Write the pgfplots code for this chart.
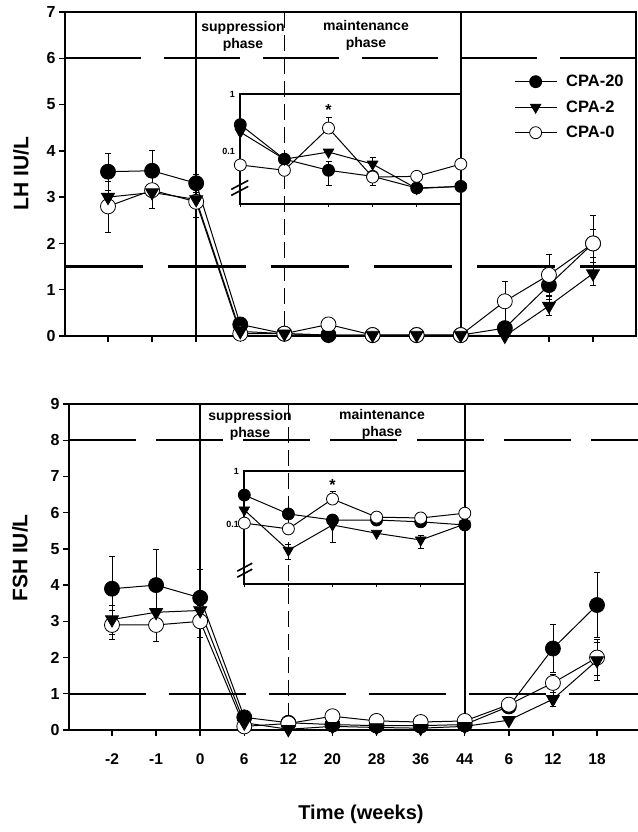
\documentclass[border=0pt]{standalone}
\usepackage{fontspec}
\setmainfont{Liberation Sans}
\usepackage{pgfplots}
\pgfplotsset{compat=1.18}

\pgfplotsset{
  panel/.style={
    scale only axis, width=571pt, xmin=-0.975, xmax=11.975,
    axis line style={line width=2.2pt},
    tick align=outside, tick pos=left, major tick length=6pt,
    tick style={line width=1.4pt, black},
    xtick={0,...,11},
    /pgf/number format/assume math mode=true,
    yticklabel style={font=\fontsize{16}{16}\selectfont\bfseries},
    xticklabel style={font=\fontsize{15.5}{15.5}\selectfont\bfseries, yshift=-14pt},
    clip=false,
  },
  insetax/.style={
    scale only axis, width=220.5pt, xmin=3, xmax=8, ymax=1,
    axis line style={line width=1.8pt},
    tick align=outside, tick pos=left, major tick length=3pt,
    xtick={3,...,8}, xticklabels={},
    ytick={0.1,1}, yticklabels={0.1,1}, ytick style={draw=none},
    xtick style={line width=1pt, black},
    yticklabel style={font=\fontsize{9}{9}\selectfont\bfseries, xshift=1pt},
    clip=false,
  },
  cpa20/.style={black, line width=1pt, mark=*, mark size=7.5pt,
    mark options={solid, fill=black, line width=0.8pt}},
  cpa2/.style={black, line width=1pt, mark=triangle*, mark size=7.5pt,
    mark options={solid, rotate=180, fill=black, line width=0.8pt}},
  cpa0/.style={black, line width=1pt, mark=*, mark size=7.5pt,
    mark options={solid, fill=white, line width=0.8pt}},
  errs/.style={forget plot, only marks, mark=none,
    error bars/.cd, y dir=both, y explicit,
    error bar style={line width=0.6pt, black},
    error mark options={rotate=90, mark size=3pt, line width=0.6pt, black}},
  refline/.style={forget plot, black, line width=2.2pt},
}

\begin{document}
\begin{tikzpicture}
\useasboundingbox (0pt,0pt) rectangle (637pt,832pt);

% ---------------- LH panel ----------------
\begin{axis}[panel, at={(65pt,496pt)}, anchor=south west, height=324pt,
  ymin=0, ymax=7, ytick={0,...,7}, xticklabels={},
  legend style={at={(0.781,0.818)}, anchor=north west, draw=none, fill=none,
    font=\fontsize{16.5}{16.5}\selectfont\bfseries, row sep=8.5pt,
    nodes={inner sep=2pt},
    /tikz/every odd column/.append style={column sep=7pt}},
  legend cell align=left,
  legend image code/.code={\draw[mark repeat=2,mark phase=2,#1]
    plot coordinates {(0pt,0pt) (21pt,0pt) (42pt,0pt)};}]
\addlegendimage{cpa20, mark size=6pt}\addlegendentry{CPA-20}
\addlegendimage{cpa2, mark size=6pt}\addlegendentry{CPA-2}
\addlegendimage{cpa0, mark size=6pt}\addlegendentry{CPA-0}

\addplot[refline, dash pattern=on 76pt off 23pt] coordinates {(-0.975,6) (11.975,6)};
\addplot[refline, dash pattern=on 78pt off 25pt] coordinates {(-0.975,1.5) (11.975,1.5)};
\draw[line width=2pt] (axis cs:2,0) -- (axis cs:2,7);
\draw[line width=1.3pt, dash pattern=on 16pt off 7pt] (axis cs:4,7) -- (axis cs:4,0);
\draw[line width=2pt] (axis cs:8,0) -- (axis cs:8,7);

\addplot[errs] coordinates {(0,3.55) +- (0,0.4) (1,3.57) +- (0,0.45) (2,3.3) +- (0,0.2)
  (10,1.1) +- (0,0.3) (11,2.0) +- (0,0.3)};
\addplot[errs] coordinates {(1,3.1) +- (0,0.35) (10,0.65) +- (0,0.2) (11,1.35) +- (0,0.25)};
\addplot[errs] coordinates {(0,2.8) +- (0,0.55) (1,3.15) +- (0,0.4) (2,2.9) +- (0,0.33)
  (9,0.75) +- (0,0.44) (10,1.32) +- (0,0.45) (11,2.0) +- (0,0.6)};

\addplot[cpa20, forget plot] coordinates {(0,3.55) (1,3.57) (2,3.3) (3,0.25) (4,0.05) (5,0.02)
  (6,0.02) (7,0.02) (8,0.02) (9,0.17) (10,1.1) (11,2.0)};
\addplot[cpa0, forget plot] coordinates {(0,2.8) (1,3.15) (2,2.9) (3,0.05) (4,0.05) (5,0.25)
  (6,0.02) (7,0.02) (8,0.02) (9,0.75) (10,1.32) (11,2.0)};
\addplot[cpa2, forget plot] coordinates {(0,3.0) (1,3.1) (2,2.95) (3,0.1) (4,0.05) (5,0.02)
  (6,0.02) (7,0.02) (8,0.02) (9,0.0) (10,0.65) (11,1.35)};
\end{axis}

\begin{semilogyaxis}[insetax, at={(240.3pt,628pt)}, anchor=south west, height=110pt, ymin=0.0118]
\addplot[errs] coordinates {(5,0.253) += (0,0.13) -= (0,0.05) (5,0.046) += (0,0.02) -= (0,0.021)
  (6,0.059) += (0,0.019) -= (0,0.015) (6,0.035) += (0,0.005) -= (0,0.01)};
\addplot[cpa20, mark size=6pt] coordinates {(3,0.29) (4,0.072) (5,0.046) (6,0.036) (7,0.0225) (8,0.024)};
\addplot[cpa0, mark size=6pt] coordinates {(3,0.057) (4,0.046) (5,0.253) (6,0.035) (7,0.036) (8,0.059)};
\addplot[cpa2, mark size=6pt] coordinates {(3,0.215) (4,0.072) (5,0.096) (6,0.059) (7,0.022) (8,0.024)};
\node[font=\fontsize{16}{16}\selectfont\bfseries] at (axis cs:5,0.52) {*};
\draw[line width=1.6pt] ([xshift=-9pt,yshift=-3pt]rel axis cs:0,0.16) -- ([xshift=8pt,yshift=6pt]rel axis cs:0,0.16);
\draw[line width=1.6pt] ([xshift=-9pt,yshift=-9pt]rel axis cs:0,0.16) -- ([xshift=8pt,yshift=0pt]rel axis cs:0,0.16);
\end{semilogyaxis}

% ---------------- FSH panel ----------------
\begin{axis}[panel, at={(69pt,102pt)}, anchor=south west, height=326pt,
  ymin=0, ymax=9, ytick={0,...,9},
  xticklabels={-2,-1,0,6,12,20,28,36,44,6,12,18}]
\addplot[refline, dash pattern=on 67pt off 20pt] coordinates {(-0.975,8) (11.975,8)};
\addplot[refline, dash pattern=on 77pt off 23pt] coordinates {(-0.975,1) (11.975,1)};
\draw[line width=2pt] (axis cs:2,0) -- (axis cs:2,9);
\draw[line width=1.3pt, dash pattern=on 16pt off 7pt] (axis cs:4,9) -- (axis cs:4,0);
\draw[line width=2pt] (axis cs:8,0) -- (axis cs:8,9);

\addplot[errs] coordinates {(0,3.9) +- (0,0.9) (1,4.0) +- (0,1.0) (2,3.65) +- (0,0.8)
  (10,2.25) +- (0,0.67) (11,3.45) +- (0,0.9)};
\addplot[errs] coordinates {(0,3.05) +- (0,0.4) (10,0.85) +- (0,0.2) (11,1.9) +- (0,0.52)};
\addplot[errs] coordinates {(0,2.9) +- (0,0.4) (1,2.9) +- (0,0.45) (2,3.0) +- (0,0.45)
  (10,1.3) +- (0,0.25) (11,2.0) +- (0,0.5)};

\addplot[cpa20] coordinates {(0,3.9) (1,4.0) (2,3.65) (3,0.35) (4,0.2) (5,0.15)
  (6,0.12) (7,0.12) (8,0.15) (9,0.65) (10,2.25) (11,3.45)};
\addplot[cpa0] coordinates {(0,2.9) (1,2.9) (2,3.0) (3,0.1) (4,0.18) (5,0.38)
  (6,0.25) (7,0.22) (8,0.25) (9,0.7) (10,1.3) (11,2.0)};
\addplot[cpa2] coordinates {(0,3.05) (1,3.25) (2,3.3) (3,0.2) (4,0.02) (5,0.1)
  (6,0.07) (7,0.05) (8,0.1) (9,0.27) (10,0.85) (11,1.92)};
\end{axis}

\begin{semilogyaxis}[insetax, at={(244.3pt,248pt)}, anchor=south west, height=113pt, ymin=0.0074]
\addplot[errs] coordinates {(5,0.096) += (0,0.02) -= (0,0.05) (4,0.032) += (0,0.01) -= (0,0.01)
  (5,0.296) += (0,0.12) -= (0,0.05) (7,0.05) += (0,0.01) -= (0,0.015)};
\addplot[cpa20, mark size=6pt] coordinates {(3,0.352) (4,0.155) (5,0.119) (6,0.119) (7,0.11) (8,0.096)};
\addplot[cpa0, mark size=6pt] coordinates {(3,0.104) (4,0.081) (5,0.296) (6,0.135) (7,0.13) (8,0.16)};
\addplot[cpa2, mark size=6pt] coordinates {(3,0.184) (4,0.032) (5,0.096) (6,0.067) (7,0.05) (8,0.1)};
\node[font=\fontsize{16}{16}\selectfont\bfseries] at (axis cs:5,0.54) {*};
\draw[line width=1.6pt] ([xshift=-7pt,yshift=-3pt]rel axis cs:0,0.14) -- ([xshift=8pt,yshift=5pt]rel axis cs:0,0.14);
\draw[line width=1.6pt] ([xshift=-7pt,yshift=-9pt]rel axis cs:0,0.14) -- ([xshift=8pt,yshift=-1pt]rel axis cs:0,0.14);
\end{semilogyaxis}

% ---------------- texts ----------------
\begin{scope}[every node/.style={align=center, inner sep=0pt,
    font=\fontsize{14}{17}\selectfont\bfseries}]
\node at (243pt,795.5pt) {suppression\\phase};
\node at (366pt,796.5pt) {maintenance\\phase};
\node at (250pt,407pt) {suppression\\phase};
\node at (382pt,407.5pt) {maintenance\\phase};
\end{scope}
\node[rotate=90, font=\fontsize{21}{21}\selectfont\bfseries] at (21pt,658.5pt) {LH IU/L};
\node[rotate=90, font=\fontsize{21}{21}\selectfont\bfseries] at (20pt,274pt) {FSH IU/L};
\node[font=\fontsize{20}{20}\selectfont\bfseries] at (361pt,18pt) {Time (weeks)};
\end{tikzpicture}
\end{document}
